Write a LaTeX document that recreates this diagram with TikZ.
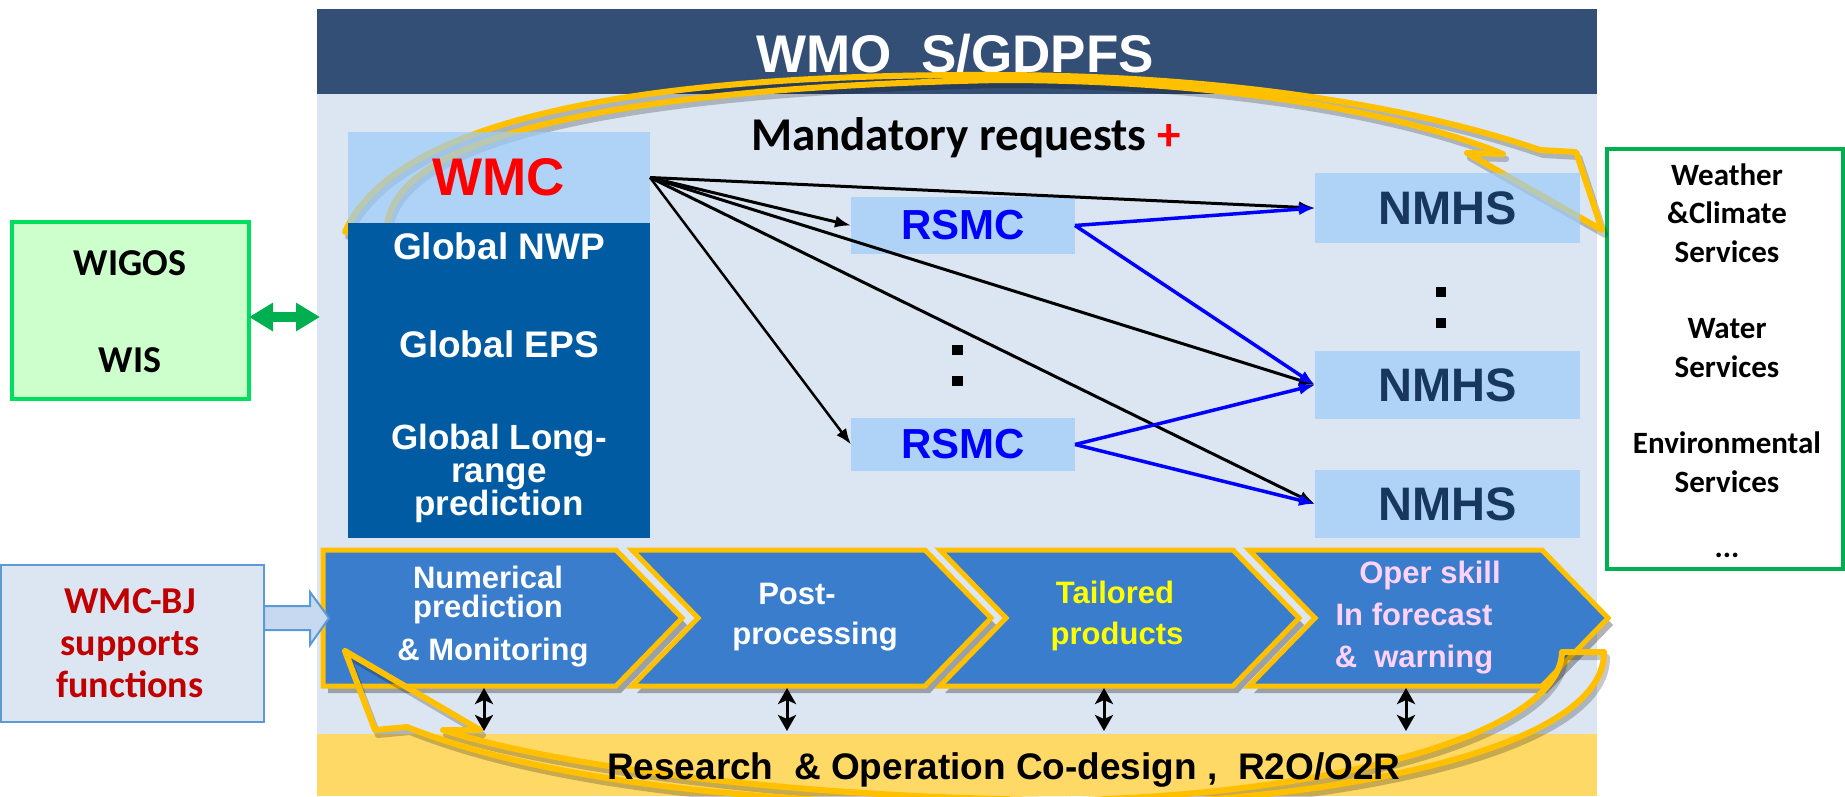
\documentclass[tikz,border=0pt]{standalone}
\usepackage{fontspec}
\setmainfont{Liberation Sans}
\newfontfamily\calib{Carlito}
\usetikzlibrary{arrows.meta}
\definecolor{hdr}{RGB}{52,79,117}
\definecolor{panel}{RGB}{220,230,242}
\definecolor{bandy}{RGB}{255,217,102}
\definecolor{goldy}{RGB}{255,192,0}
\definecolor{lbsemi}{RGB}{157,204,249}
\definecolor{darkbox}{RGB}{1,91,163}
\definecolor{wmcred}{RGB}{255,0,0}
\definecolor{rsmcblue}{RGB}{0,0,255}
\definecolor{navyt}{RGB}{23,55,94}
\definecolor{chev}{RGB}{58,125,204}
\definecolor{chevyel}{RGB}{255,255,0}
\definecolor{chevpink}{RGB}{255,210,250}
\definecolor{wgreen}{RGB}{0,222,96}
\definecolor{wfill}{RGB}{204,255,204}
\definecolor{sgreen}{RGB}{0,176,80}
\definecolor{bjborder}{RGB}{91,155,213}
\definecolor{bjred}{RGB}{192,0,0}
\definecolor{hollowfill}{RGB}{198,217,241}
\begin{document}
\begin{tikzpicture}[x=1pt,y=-1pt,
  every node/.style={inner sep=0pt, outer sep=0pt},
  lbox/.style={fill=lbsemi, fill opacity=0.7, text opacity=1},
  arrshadow/.style={draw=black, draw opacity=0.22, line width=6pt, line join=round, shift={(3,5)}},
  arrgold/.style={draw=goldy, line width=6pt, line join=round},
  chevshadow/.style={fill=black, fill opacity=0.3},
  chevmain/.style={fill=chev, draw=goldy, line width=5pt, line join=miter},
  ctext/.style={anchor=base, font=\bfseries\fontsize{31}{34}\selectfont},
  gtext/.style={anchor=base, text=white, font=\bfseries\fontsize{37}{40}\selectfont},
  stext/.style={anchor=base, font=\calib\bfseries\fontsize{31}{36}\selectfont},
  bjtext/.style={anchor=base, text=bjred, font=\calib\bfseries\fontsize{38}{42}\selectfont},
  wtext/.style={anchor=base, font=\calib\bfseries\fontsize{38}{42}\selectfont},
  blk/.style={draw=black, line width=3pt, arrows={-Latex[length=16pt,width=12pt]}},
  blu/.style={draw=rsmcblue, line width=3.5pt, arrows={-Latex[length=16pt,width=12pt]}},
  dbl/.style={draw=black, line width=3pt, arrows={Stealth[length=16pt,width=18pt,inset=4pt]-Stealth[length=16pt,width=18pt,inset=4pt]}},
  gdbl/.style={draw=sgreen, line width=10pt, arrows={Triangle[length=24pt,width=27pt]-Triangle[length=24pt,width=27pt]}},
  sqdot/.style={fill=black, minimum width=11pt, minimum height=10pt}
]
\useasboundingbox (0,0) rectangle (1845,796);
\fill[white] (0,0) rectangle (1845,796);
% main panel, header, band
\fill[panel] (317,94) rectangle (1597,734);
\fill[hdr] (317,9) rectangle (1597,94);
\fill[bandy] (317,734) rectangle (1597,796);
\node[anchor=base, text=white, font=\bfseries\fontsize{53}{60}\selectfont] (title) at (955,72) {WMO~~S/GDPFS};

% outside boxes
\node[draw=wgreen, fill=wfill, line width=3.5pt, minimum width=237pt, minimum height=177pt] (wigos) at (130.5,310.5) {};
\node[wtext] (wigosA) at (130,275) {WIGOS};
\node[wtext] (wigosB) at (130,372) {WIS};

\node[draw=sgreen, fill=white, line width=4pt, minimum width=236pt, minimum height=420pt] (svc) at (1725,359) {};
\node[stext] (s1) at (1727,185) {Weather};
\node[stext] (s2) at (1727,223) {\&Climate};
\node[stext] (s3) at (1727,262) {Services};
\node[stext] (s4) at (1727,338) {Water};
\node[stext] (s5) at (1727,377) {Services};
\node[stext] (s6) at (1727,453) {Environmental};
\node[stext] (s7) at (1727,492) {Services};
\node[stext] (s8) at (1727,557) {...};

\node[draw=bjborder, fill=panel, line width=2.5pt, minimum width=263pt, minimum height=157pt] (bj) at (132.5,643.5) {};
\node[bjtext] (bj1) at (130,613) {WMC-BJ};
\node[bjtext] (bj2) at (130,655) {supports};
\node[bjtext] (bj3) at (130,697) {functions};

% top curved arrow
\foreach \st in {arrshadow,arrgold}
  \draw[\st] (387,226) .. controls (395,140) and (600,88) .. (1000,80)
     .. controls (1250,80) and (1420,120) .. (1503,154)
     -- (1467,153) -- (1602,230) -- (1576,152) -- (1540,150)
     .. controls (1430,112) and (1250,76) .. (1000,75)
     .. controls (600,73) and (390,130) .. (345,232) -- cycle;

% WMC
\node[lbox, minimum width=302pt, minimum height=91pt, text=wmcred, font=\bfseries\fontsize{53}{60}\selectfont] (wmc) at (499,177.5) {WMC};
\node[fill=darkbox, minimum width=302pt, minimum height=315pt] (glob) at (499,380.5) {};
\node[gtext] (g1) at (499,259) {Global NWP};
\node[gtext] (g2) at (499,357) {Global EPS};
\node[anchor=north, align=center, text=white, font={\bfseries\fontsize{35}{33}\selectfont}] (g3) at (499,424) {Global Long-\\range\\prediction};

% RSMC and NMHS
\node[lbox, minimum width=224pt, minimum height=57pt, text=rsmcblue, font=\bfseries\fontsize{42}{48}\selectfont] (rsmc1) at (963,225.5) {RSMC};
\node[lbox, minimum width=224pt, minimum height=53pt, text=rsmcblue, font=\bfseries\fontsize{42}{48}\selectfont] (rsmc2) at (963,444.5) {RSMC};
\node[lbox, minimum width=265pt, minimum height=70pt, text=navyt, font=\bfseries\fontsize{47}{52}\selectfont] (nmhs1) at (1447.5,208) {NMHS};
\node[lbox, minimum width=265pt, minimum height=68pt, text=navyt, font=\bfseries\fontsize{47}{52}\selectfont] (nmhs2) at (1447.5,385) {NMHS};
\node[lbox, minimum width=265pt, minimum height=68pt, text=navyt, font=\bfseries\fontsize{47}{52}\selectfont] (nmhs3) at (1447.5,504) {NMHS};

\node[sqdot] (rd1) at (957,350) {};
\node[sqdot] (rd2) at (957,381) {};
\node[sqdot, minimum width=10pt] (nd1) at (1441,292) {};
\node[sqdot, minimum width=10pt] (nd2) at (1441,323) {};

% connectors
\draw[blk] (wmc.east) -- (nmhs1.west);
\draw[blk] (wmc.east) -- (rsmc1.west);
\draw[blk] (wmc.east) -- (nmhs2.west);
\draw[blk] (wmc.east) -- (nmhs3.west);
\draw[blk, line width=2.5pt] (wmc.east) -- (rsmc2.west);
\draw[blu] (rsmc1.east) -- (nmhs1.west);
\draw[blu] (rsmc1.east) -- (nmhs2.west);
\draw[blu] (rsmc2.east) -- (nmhs2.west);
\draw[blu] (rsmc2.east) -- (nmhs3.west);

\node[anchor=base west, font=\calib\bfseries\fontsize{47}{52}\selectfont] (mand) at (751,150) {Mandatory requests \textcolor{wmcred}{+}};

% chevrons
\fill[chevshadow, shift={(5,7)}] (323,550) -- (616,550) -- (682,618) -- (616,686) -- (323,686) -- cycle;
\foreach \xo in {632,940,1249}
  \fill[chevshadow, shift={(\xo+5,7)}] (0,550) -- (293,550) -- (359,618) -- (293,686) -- (0,686) -- (66,618) -- cycle;
\draw[chevmain] (323,550) -- (616,550) -- (682,618) -- (616,686) -- (323,686) -- cycle;
\foreach \xo in {632,940,1249}
  \draw[chevmain, shift={(\xo,0)}] (0,550) -- (293,550) -- (359,618) -- (293,686) -- (0,686) -- (66,618) -- cycle;

\node[ctext, text=white] (c1a) at (488,588) {Numerical};
\node[ctext, text=white] (c1b) at (488,617) {prediction};
\node[ctext, text=white] (c1c) at (493,660) {\& Monitoring};
\node[ctext, text=white] (c2a) at (797,604) {Post-};
\node[ctext, text=white] (c2b) at (815,644) {processing};
\node[ctext, text=chevyel] (c3a) at (1115,603) {Tailored};
\node[ctext, text=chevyel] (c3b) at (1117,644) {products};
\node[ctext, text=chevpink] (c4a) at (1430,583) {Oper skill};
\node[ctext, text=chevpink] (c4b) at (1414,625) {In forecast};
\node[ctext, text=chevpink] (c4c) at (1414,667) {\&~~warning};

% small double arrows
\foreach \i/\x in {1/484,2/787,3/1104,4/1406}{
  \coordinate (u\i) at (\x,688);
  \coordinate (v\i) at (\x,731);
  \draw[dbl] (u\i) -- (v\i);
}

% bottom curved arrow
\foreach \st in {arrshadow,arrgold}
  \draw[\st] (1562,652) -- (1604,652) .. controls (1605,750) and (1330,805) .. (1050,806)
     .. controls (800,806) and (560,788) .. (407,727)
     -- (375,730) -- (345,651) -- (480,730) -- (443,730)
     .. controls (560,768) and (820,800) .. (1080,800)
     .. controls (1350,792) and (1560,730) .. (1562,652) -- cycle;

\node[anchor=base west, font=\bfseries\fontsize{37}{42}\selectfont] (band) at (607,779) {Research~~\& Operation Co-design ,~~R2O/O2R};

% side arrows
\coordinate (gin) at (320,317);
\draw[gdbl] (wigos.east |- gin) -- (gin);
\draw[draw=bjborder, fill=hollowfill, line width=2pt, line join=miter]
  (264,606) -- (310,606) -- (310,592) -- (329,618) -- (310,645) -- (310,630) -- (264,630) -- cycle;
\end{tikzpicture}
\end{document}
